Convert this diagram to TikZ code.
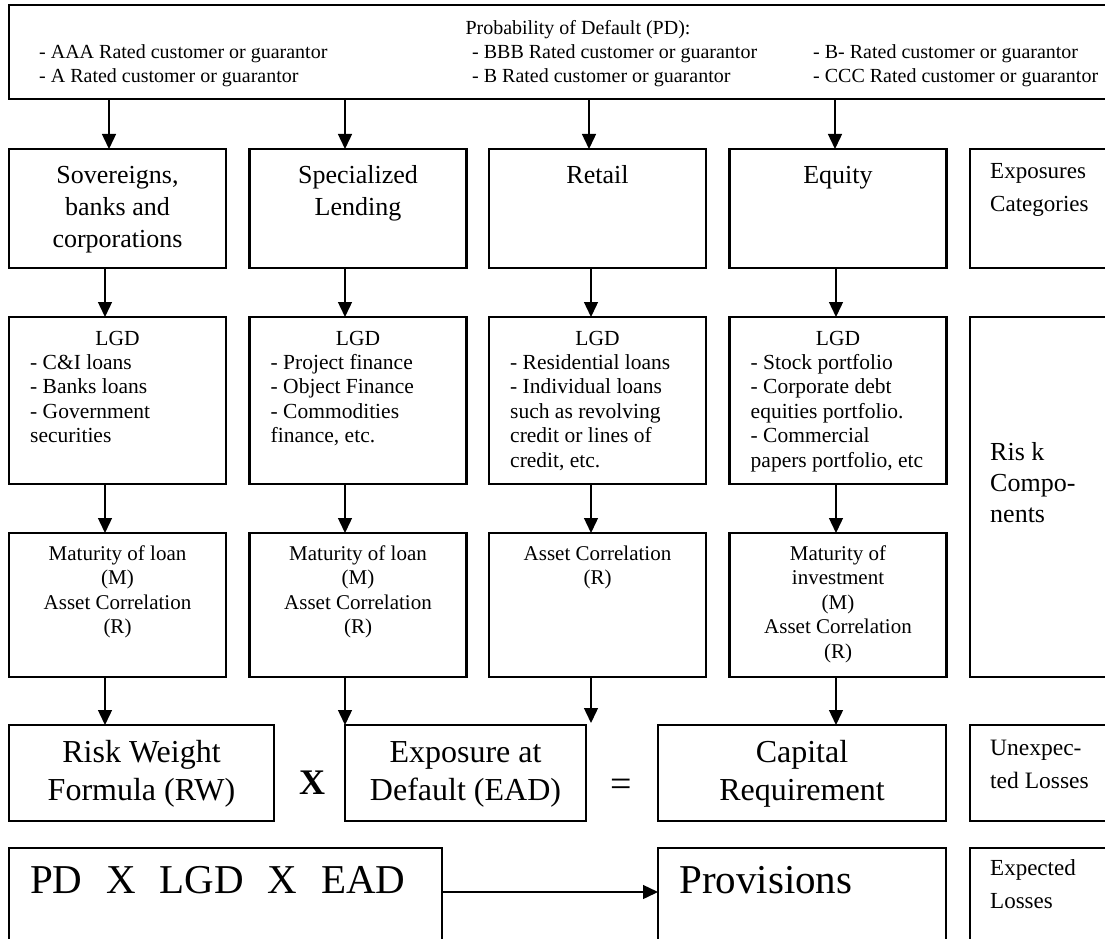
\documentclass[tikz,border=0pt]{standalone}
\usepackage{fontspec}
\setmainfont{Liberation Serif}
\usetikzlibrary{arrows.meta}
\newcommand{\setfs}[2]{\fontsize{#1}{#2}\selectfont}
\newcommand{\boxlines}[2]{\begin{tabular}[t]{@{}#1@{}}#2\end{tabular}}

\begin{document}
\begin{tikzpicture}[x=1pt,y=-1pt,
  box/.style={draw,line width=2.6pt,inner sep=0pt,outer sep=0pt},
  colbox/.style={box,minimum width=217pt},
  sidebox/.style={box,minimum width=145pt},
  arr/.style={line width=1.4pt,-{Triangle[length=15pt,width=14pt]}},
  toptxt/.style={inner sep=0pt,font=\setfs{20}{23.5}},
  cattxt/.style={inner sep=0pt,anchor=base,font=\setfs{26}{32}},
  sidetxt/.style={inner sep=0pt,anchor=base west,font=\setfs{23}{33.5}},
  lgdtxt/.style={inner sep=0pt,font=\setfs{21.5}{24.6}},
  mattxt/.style={inner sep=0pt,anchor=base,font=\setfs{21}{24.6}},
  bigtxt/.style={inner sep=0pt,anchor=base,font=\setfs{32}{38}},
  hugetxt/.style={inner sep=0pt,anchor=base west,font=\setfs{41}{48}}]
\useasboundingbox (0,0) rectangle (1105,939);
\clip (0,0) rectangle (1105,939);

\node[box,minimum width=1106pt,minimum height=94pt] (pd) at (562,52) {};
\node[toptxt,anchor=base] (pdt) at (578,35) {Probability of Default (PD):};
\node[toptxt,anchor=base west] (pda) at (39,59) {\boxlines{l}{- AAA Rated customer or guarantor\\- A Rated customer or guarantor}};
\node[toptxt,anchor=base west] (pdb) at (472,59) {\boxlines{l}{- BBB Rated customer or guarantor\\- B Rated customer or guarantor}};
\node[toptxt,anchor=base west] (pdc) at (813,59) {\boxlines{l}{- B- Rated customer or guarantor\\- CCC Rated customer or guarantor}};

\node[colbox,minimum height=119pt] (sov) at (117.5,208.5) {};
\node[colbox,minimum height=119pt] (spl) at (358,208.5) {};
\node[colbox,minimum height=119pt] (ret) at (597.5,208.5) {};
\node[colbox,minimum height=119pt] (equ) at (838,208.5) {};
\node[sidebox,minimum height=119pt] (cat) at (1042.5,208.5) {};
\node[cattxt] at ([yshift=-34pt]sov.north) {\boxlines{c}{Sovereigns,\\banks and\\corporations}};
\node[cattxt] at ([yshift=-34pt]spl.north) {\boxlines{c}{Specialized\\Lending}};
\node[cattxt] at ([yshift=-34pt]ret.north) {Retail};
\node[cattxt] at ([yshift=-34pt]equ.north) {Equity};
\node[sidetxt] at ([xshift=20pt,yshift=-29pt]cat.north west) {\boxlines{l}{Exposures\\Categories}};

\node[colbox,minimum height=167pt] (lgd1) at (117.5,400.5) {};
\node[colbox,minimum height=167pt] (lgd2) at (358,400.5) {};
\node[colbox,minimum height=167pt] (lgd3) at (597.5,400.5) {};
\node[colbox,minimum height=167pt] (lgd4) at (838,400.5) {};
\node[sidebox,minimum height=360pt] (risk) at (1042.5,497) {};
\foreach \b in {lgd1,lgd2,lgd3,lgd4}
  \node[lgdtxt,anchor=base] at ([yshift=-28pt]\b.north) {LGD};
\node[lgdtxt,anchor=base west] at ([xshift=21pt,yshift=-52pt]lgd1.north west) {\boxlines{l}{- C\&I loans\\- Banks loans\\- Government\\securities}};
\node[lgdtxt,anchor=base west] at ([xshift=21pt,yshift=-52pt]lgd2.north west) {\boxlines{l}{- Project finance\\- Object Finance\\- Commodities\\finance, etc.}};
\node[lgdtxt,anchor=base west] at ([xshift=21pt,yshift=-52pt]lgd3.north west) {\boxlines{l}{- Residential loans\\- Individual loans\\such as revolving\\credit or lines of\\credit, etc.}};
\node[lgdtxt,anchor=base west] at ([xshift=21pt,yshift=-52pt]lgd4.north west) {\boxlines{l}{- Stock portfolio\\- Corporate debt\\equities portfolio.\\- Commercial\\papers portfolio, etc}};
\node[sidetxt,font=\setfs{26}{31}] at ([xshift=20pt,yshift=-143pt]risk.north west) {\boxlines{l}{Ris k\\Compo-\\nents}};

\node[colbox,minimum height=144pt] (mat1) at (117.5,605) {};
\node[colbox,minimum height=144pt] (mat2) at (358,605) {};
\node[colbox,minimum height=144pt] (cor3) at (597.5,605) {};
\node[colbox,minimum height=144pt] (mat4) at (838,605) {};
\node[mattxt] at ([yshift=-27pt]mat1.north) {\boxlines{c}{Maturity of loan\\(M)\\Asset Correlation\\(R)}};
\node[mattxt] at ([yshift=-27pt]mat2.north) {\boxlines{c}{Maturity of loan\\(M)\\Asset Correlation\\(R)}};
\node[mattxt] at ([yshift=-27pt]cor3.north) {\boxlines{c}{Asset Correlation\\(R)}};
\node[mattxt] at ([yshift=-27pt]mat4.north) {\boxlines{c}{Maturity of\\investment\\(M)\\Asset Correlation\\(R)}};

\node[box,minimum width=265pt,minimum height=96pt] (rw) at (141.5,773) {};
\node[box,minimum width=241pt,minimum height=96pt] (ead) at (465.5,773) {};
\node[box,minimum width=288pt,minimum height=96pt] (cap) at (802,773) {};
\node[sidebox,minimum height=96pt] (unexp) at (1042.5,773) {};
\node[bigtxt] at ([yshift=-37pt]rw.north) {\boxlines{c}{Risk Weight\\Formula (RW)}};
\node[bigtxt] at ([yshift=-37pt]ead.north) {\boxlines{c}{Exposure at\\Default (EAD)}};
\node[bigtxt] at ([yshift=-37pt]cap.north) {\boxlines{c}{Capital\\Requirement}};
\node[inner sep=0pt,font=\setfs{36}{40}\bfseries] (times) at (312,783) {X};
\node[inner sep=0pt,font=\setfs{38}{40}] (equals) at (621,788) {=};
\node[sidetxt,font=\setfs{23.5}{33}] at ([xshift=20pt,yshift=-30pt]unexp.north west) {\boxlines{l}{Unexpec-\\ted Losses}};

\node[box,minimum width=433pt,minimum height=112pt] (el) at (225.5,904) {};
\node[box,minimum width=288pt,minimum height=112pt] (prov) at (802,904) {};
\node[sidebox,minimum height=112pt] (exp) at (1042.5,904) {};
\node[hugetxt] at ([xshift=21pt,yshift=-45pt]el.north west) {PD\hspace{0.58em}X\hspace{0.58em}LGD\hspace{0.58em}X\hspace{0.58em}EAD};
\node[hugetxt] at ([xshift=21pt,yshift=-45pt]prov.north west) {Provisions};
\node[sidetxt] at ([xshift=20pt,yshift=-27pt]exp.north west) {\boxlines{l}{Expected\\Losses}};

\draw[arr] ([xshift=-8.5pt]sov.north |- pd.south) -- ([xshift=-8.5pt]sov.north);
\draw[arr] ([xshift=-13pt]spl.north |- pd.south) -- ([xshift=-13pt]spl.north);
\draw[arr] ([xshift=-8.5pt]ret.north |- pd.south) -- ([xshift=-8.5pt]ret.north);
\draw[arr] ([xshift=-3pt]equ.north |- pd.south) -- ([xshift=-3pt]equ.north);

\draw[arr] ([xshift=-12.5pt]sov.south) -- ([xshift=-12.5pt]lgd1.north);
\draw[arr] ([xshift=-13pt]spl.south) -- ([xshift=-13pt]lgd2.north);
\draw[arr] ([xshift=-6.5pt]ret.south) -- ([xshift=-6.5pt]lgd3.north);
\draw[arr] ([xshift=-2pt]equ.south) -- ([xshift=-2pt]lgd4.north);

\draw[arr] ([xshift=-12.5pt]lgd1.south) -- ([xshift=-12.5pt]mat1.north);
\draw[arr] ([xshift=-13pt]lgd2.south) -- ([xshift=-13pt]mat2.north);
\draw[arr] ([xshift=-6.5pt]lgd3.south) -- ([xshift=-6.5pt]cor3.north);
\draw[arr] ([xshift=-2pt]lgd4.south) -- ([xshift=-2pt]mat4.north);

\coordinate (free) at (591,723);
\draw[arr] ([xshift=-12.5pt]mat1.south) -- ([xshift=-12.5pt]mat1.south |- rw.north);
\draw[arr] ([xshift=-13pt]mat2.south) -- (ead.north west);
\draw[arr] ([xshift=-6.5pt]cor3.south) -- (free);
\draw[arr] ([xshift=-2pt]mat4.south) -- ([xshift=-2pt]mat4.south |- cap.north);

\draw[arr] (el.east |- 0,892) -- (prov.west |- 0,892);
\end{tikzpicture}
\end{document}
